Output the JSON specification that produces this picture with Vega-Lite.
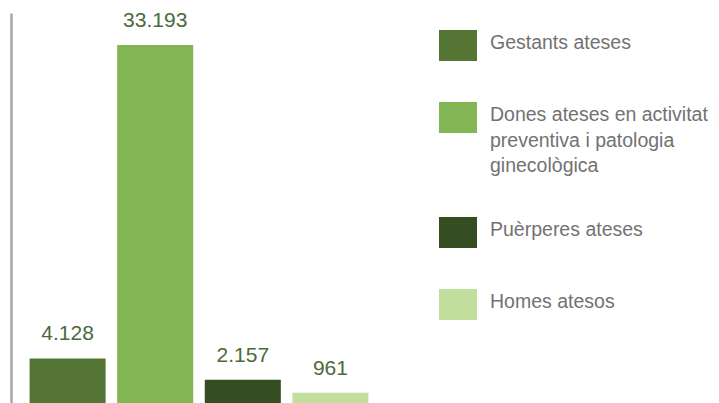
{
  "$schema": "https://vega.github.io/schema/vega-lite/v6.json",
  "width": 376,
  "height": 390,
  "autosize": {"type": "none"},
  "padding": {"left": 11, "top": 13, "right": 332, "bottom": 0},
  "background": "white",
  "data": {
    "values": [
      {"categoria": "Gestants ateses", "valor": 4128, "etiqueta": "4.128"},
      {"categoria": "Dones ateses en activitat preventiva i patologia ginecològica", "valor": 33193, "etiqueta": "33.193"},
      {"categoria": "Puèrperes ateses", "valor": 2157, "etiqueta": "2.157"},
      {"categoria": "Homes atesos", "valor": 961, "etiqueta": "961"}
    ]
  },
  "encoding": {
    "x": {
      "field": "categoria",
      "type": "nominal",
      "sort": null,
      "axis": null,
      "scale": {"paddingInner": 0.132, "paddingOuter": 0.212}
    },
    "y": {
      "field": "valor",
      "type": "quantitative",
      "scale": {"domain": [0, 36160], "nice": false},
      "axis": {
        "domain": true,
        "domainColor": "#a6a6a6",
        "domainWidth": 2.5,
        "ticks": false,
        "labels": false,
        "grid": false,
        "title": null
      }
    }
  },
  "layer": [
    {
      "mark": {"type": "bar", "strokeWidth": 0},
      "encoding": {
        "color": {
          "field": "categoria",
          "type": "nominal",
          "sort": null,
          "scale": {
            "domain": [
              "Gestants ateses",
              "Dones ateses en activitat preventiva i patologia ginecològica",
              "Puèrperes ateses",
              "Homes atesos"
            ],
            "range": ["#557535", "#82b554", "#344e22", "#c2de9c"]
          },
          "legend": {
            "title": null,
            "orient": "none",
            "legendX": 428,
            "legendY": 17,
            "padding": 0,
            "symbolType": "M-1,-1H1V0.63H-1Z",
            "symbolSize": 1444,
            "symbolStrokeWidth": 0,
            "symbolOpacity": 1,
            "labelFont": "Liberation Sans",
            "labelFontSize": 19.5,
            "labelColor": "#727272",
            "labelBaseline": "alphabetic",
            "labelLimit": 400,
            "labelOffset": 13,
            "rowPadding": 41,
            "labelExpr": "datum.label == 'Dones ateses en activitat preventiva i patologia ginecològica' ? ['Dones ateses en activitat', 'preventiva i patologia', 'ginecològica'] : datum.label"
          }
        }
      }
    },
    {
      "mark": {
        "type": "text",
        "baseline": "alphabetic",
        "align": "center",
        "dy": -18,
        "font": "Liberation Sans",
        "fontSize": 21,
        "color": "#4a6a3c"
      },
      "encoding": {
        "text": {"field": "etiqueta", "type": "nominal"}
      }
    }
  ],
  "config": {
    "view": {"stroke": null},
    "style": {"guide-label": {"lineHeight": 25.5}}
  }
}
